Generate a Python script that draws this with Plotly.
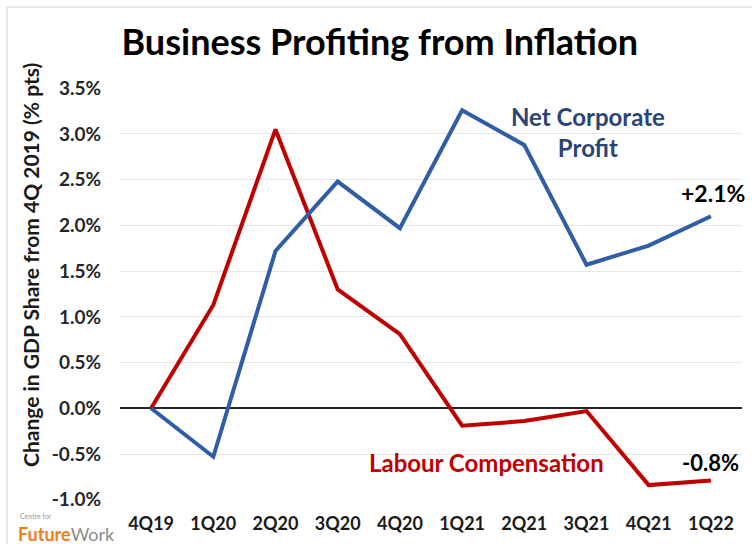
import plotly.graph_objects as go

quarters = ["4Q19", "1Q20", "2Q20", "3Q20", "4Q20", "1Q21", "2Q21", "3Q21", "4Q21", "1Q22"]
net_corporate_profit = [0.0, -0.53, 1.72, 2.48, 1.97, 3.26, 2.88, 1.57, 1.78, 2.10]
labour_compensation = [0.0, 1.13, 3.05, 1.30, 0.81, -0.19, -0.14, -0.03, -0.84, -0.79]
y_ticks = [-1.0, -0.5, 0.0, 0.5, 1.0, 1.5, 2.0, 2.5, 3.0, 3.5]
y_tick_labels = ["%.1f%%" % v for v in y_ticks]

BLUE = "#2F5DA6"
RED = "#C00000"
FONT = "Lato"

fig = go.Figure()
fig.add_trace(go.Scatter(x=quarters, y=labour_compensation, mode="lines",
                         line=dict(color=RED, width=4), name="Labour Compensation"))
fig.add_trace(go.Scatter(x=quarters, y=net_corporate_profit, mode="lines",
                         line=dict(color=BLUE, width=4), name="Net Corporate Profit"))

fig.update_layout(
    width=752, height=544,
    margin=dict(l=120, r=10, t=88, b=44),
    paper_bgcolor="white", plot_bgcolor="white",
    showlegend=False,
    font=dict(family=FONT, color="#262626"),
    title=dict(text="<b>Business Profiting from Inflation</b>", x=0.505, xanchor="center",
               y=0.922, yanchor="middle", font=dict(size=36, color="black", family=FONT)),
)
fig.update_xaxes(type="category", range=[-0.5, 9.5], showgrid=False, zeroline=False,
                 showline=False, ticks="", ticklabelstandoff=11,
                 tickfont=dict(size=18, family=FONT, color="#1a1a1a", weight="bold"))
fig.update_yaxes(range=[-1.003, 3.503], tickvals=y_ticks, ticktext=y_tick_labels,
                 showgrid=True, gridcolor="#e6e6e6", gridwidth=1,
                 zeroline=True, zerolinecolor="#262626", zerolinewidth=2,
                 showline=False, ticks="", ticklabelstandoff=18,
                 tickfont=dict(size=19, family=FONT, color="#262626", weight="bold"))

# y-axis title (placed like the reference, above the plot centre)
fig.add_annotation(xref="paper", yref="paper", x=(30 - 120) / 622, y=(500 - 265) / 412,
                   xanchor="center", yanchor="middle", textangle=-90, showarrow=False,
                   text="<b>Change in GDP Share from 4Q 2019 (% pts)</b>",
                   font=dict(size=21, family=FONT, color="#1a1a1a"))

anns = [
    dict(x=7.03, y=3.02, text="<b>Net Corporate<br>Profit</b>", font=dict(size=24, color="#2B4478")),
    dict(x=9.03, y=2.35, text="<b>+2.1%</b>", font=dict(size=23, color="black")),
    dict(x=5.4, y=-0.59, text="<b>Labour Compensation</b>", font=dict(size=24, color=RED)),
    dict(x=9.0, y=-0.59, text="<b>-0.8%</b>", font=dict(size=22, color="black")),
]
for a in anns:
    fig.add_annotation(xref="x", yref="y", showarrow=False, align="center",
                       font_family=FONT, **a)

# logo
fig.add_annotation(xref="paper", yref="paper", x=(18 - 120) / 622, y=(500 - 516) / 412,
                   xanchor="left", yanchor="middle", showarrow=False,
                   text="Centre for", font=dict(size=7, color="#999999", family=FONT))
fig.add_annotation(xref="paper", yref="paper", x=(16 - 120) / 622, y=(500 - 534) / 412,
                   xanchor="left", yanchor="middle", showarrow=False,
                   text="<span style='color:#F07D1A'><b>Future</b></span><span style='color:#8c8c8c'>Work</span>",
                   font=dict(size=18, family=FONT))

# frame of the original picture
fig.add_shape(type="line", xref="paper", yref="paper", x0=(7 - 120) / 622, x1=(752 - 120) / 622,
              y0=(500 - 7) / 412, y1=(500 - 7) / 412, line=dict(color="#d0d0d0", width=1))
fig.add_shape(type="line", xref="paper", yref="paper", x0=(7 - 120) / 622, x1=(7 - 120) / 622,
              y0=(500 - 7) / 412, y1=(500 - 544) / 412, line=dict(color="#d0d0d0", width=1))

fig.write_html("out.html")
